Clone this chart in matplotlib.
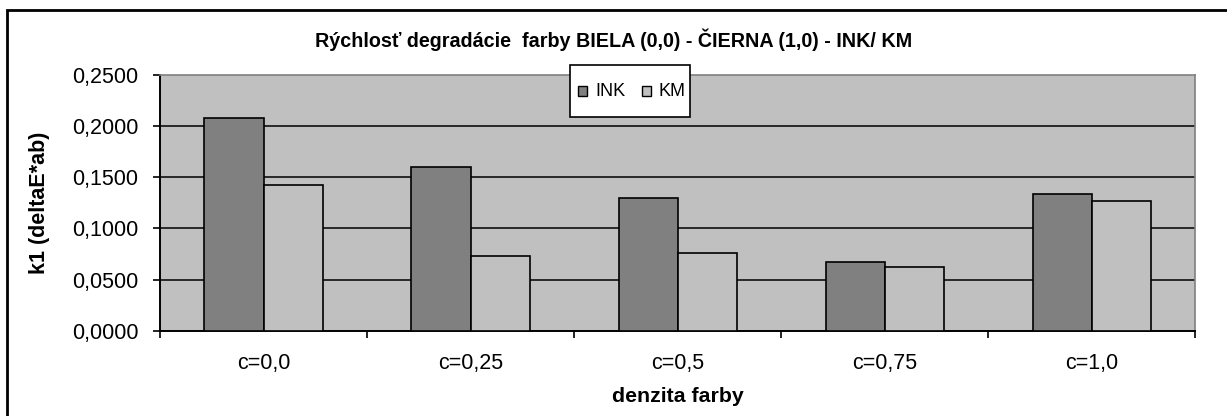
import matplotlib
matplotlib.use("Agg")
import matplotlib.pyplot as plt
from matplotlib.patches import Rectangle
from matplotlib.ticker import FixedLocator, FuncFormatter

categories = ["c=0,0", "c=0,25", "c=0,5", "c=0,75", "c=1,0"]
ink = [0.208, 0.160, 0.130, 0.0675, 0.1337]
km = [0.142, 0.0727, 0.0762, 0.0626, 0.1266]
series_names = ["INK", "KM"]
series_colors = ["#808080", "#C0C0C0"]
yticks = [0.0, 0.05, 0.10, 0.15, 0.20, 0.25]

plt.rcParams['font.family'] = ['Liberation Sans', 'DejaVu Sans']

W, H = 1227, 416
fig = plt.figure(figsize=(W / 100, H / 100), dpi=100)
fig.patch.set_facecolor("white")

def fx(px):
    return px / W

def fy(py):
    return 1 - py / H

# outer chart frame
fig.patches.append(Rectangle((fx(7), -0.2), 1.2, fy(10) + 0.2, transform=fig.transFigure,
                             fill=False, edgecolor="black", linewidth=2.0, zorder=0))

ax = fig.add_axes([fx(160), fy(331), fx(1195.5) - fx(160), fy(74.5) - fy(331)])
ax.set_facecolor("#C0C0C0")

x = list(range(len(categories)))
w = 1 / 3.5
ax.bar([i - w / 2 for i in x], ink, width=w, color=series_colors[0], edgecolor="black", linewidth=1.2, zorder=3)
ax.bar([i + w / 2 for i in x], km, width=w, color=series_colors[1], edgecolor="black", linewidth=1.2, zorder=3)

ax.set_xlim(-0.5, len(categories) - 0.5)
ax.set_ylim(0, 0.25)
ax.set_yticks(yticks)
ax.yaxis.set_major_formatter(FuncFormatter(lambda v, p: f"{v:.4f}".replace(".", ",")))
for v in yticks[1:-1]:
    ax.axhline(v, color="black", linewidth=1.1, zorder=1)

ax.set_xticks(x)
ax.set_xticklabels(categories)
ax.xaxis.set_minor_locator(FixedLocator([i - 0.5 for i in range(len(categories) + 1)]))
ax.tick_params(axis="x", which="major", length=0, pad=16, labelsize=15.5)
ax.tick_params(axis="x", which="minor", length=5, width=1.2, color="black")
ax.tick_params(axis="y", length=5, width=1.2, pad=10.5, labelsize=15.5)

for s in ["top", "right"]:
    ax.spines[s].set_color("#808080")
    ax.spines[s].set_linewidth(1.2)
for s in ["left", "bottom"]:
    ax.spines[s].set_color("black")
    ax.spines[s].set_linewidth(1.4)

ax.set_xlabel("denzita farby", fontsize=15.3, fontweight="bold", labelpad=9)
ax.set_ylabel("k1 (deltaE*ab)", fontsize=15.5, fontweight="bold", labelpad=16)

fig.text(fx(614), fy(40), "Rýchlosť degradácie  farby BIELA (0,0) - ČIERNA (1,0) - INK/ KM",
         ha="center", va="center", fontsize=14.2, fontweight="bold")

# legend box (drawn manually to match the original proportions)
fig.patches.append(Rectangle((fx(570), fy(117)), fx(690) - fx(570), fy(65) - fy(117),
                             transform=fig.transFigure, facecolor="white", edgecolor="black",
                             linewidth=1.2, zorder=5))
legend_marker_x = [578, 642]
for name, color, mx in zip(series_names, series_colors, legend_marker_x):
    fig.patches.append(Rectangle((fx(mx), fy(95.5)), fx(9), 9 / H, transform=fig.transFigure,
                                 facecolor=color, edgecolor="black", linewidth=1.0, zorder=6))
    fig.text(fx(mx + 17), fy(91), name, ha="left", va="center", fontsize=13, zorder=6)

fig.savefig("out.png", dpi=100)
